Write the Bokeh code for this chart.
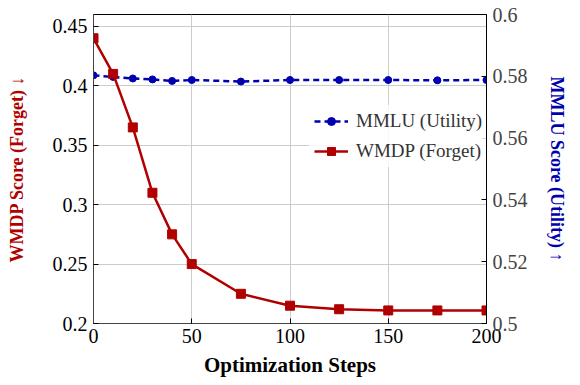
from bokeh.plotting import figure
from bokeh.layouts import row
from bokeh.models import Range1d, LinearAxis, FixedTicker, Legend, LegendItem, Spacer
from bokeh.embed import file_html
from bokeh.resources import INLINE

steps = [0, 10, 20, 30, 40, 50, 75, 100, 125, 150, 175, 200]
wmdp = [0.44, 0.41, 0.365, 0.31, 0.275, 0.25, 0.225, 0.215, 0.212, 0.211, 0.211, 0.211]
mmlu = [0.5803, 0.5798, 0.5793, 0.579, 0.5785, 0.5788, 0.5783, 0.5788, 0.5788, 0.5788, 0.5787, 0.5788]

x_ticks = [0, 50, 100, 150, 200]
left_ticks = [0.2, 0.25, 0.3, 0.35, 0.4, 0.45]
left_labels = ["0.2", "0.25", "0.3", "0.35", "0.4", "0.45"]
right_ticks = [0.5, 0.52, 0.54, 0.56, 0.58, 0.6]
right_labels = ["0.5", "0.52", "0.54", "0.56", "0.58", "0.6"]

RED = "#B00000"
BLUE = "#0000B0"
FONT = "Liberation Serif"

p = figure(frame_width=393, frame_height=309, output_backend="svg", toolbar_location=None,
           x_range=Range1d(0, 200), y_range=Range1d(0.2, 0.46),
           min_border_left=80, min_border_right=60, min_border_top=14, min_border_bottom=40)
p.extra_y_ranges = {"util": Range1d(0.5, 0.6)}
p.outline_line_color = "black"
p.outline_line_width = 1
p.background_fill_color = "white"

for ax in [p.xaxis[0], p.yaxis[0]]:
    ax.major_tick_in = 5
    ax.major_tick_out = 0
    ax.minor_tick_line_color = None
    ax.major_label_text_font = FONT
    ax.major_label_text_font_size = "20px"
    ax.major_label_text_color = "black"
    ax.axis_line_color = "#444444"
    ax.axis_label_text_font = FONT
    ax.axis_label_text_font_style = "bold"

p.xaxis[0].ticker = FixedTicker(ticks=x_ticks)
p.xaxis[0].axis_label = "Optimization Steps"
p.xaxis[0].axis_label_text_color = "black"
p.xaxis[0].axis_label_text_font_size = "21px"
p.xaxis[0].major_label_standoff = 5
p.xaxis[0].axis_label_standoff = 7

p.yaxis[0].ticker = FixedTicker(ticks=left_ticks)
p.yaxis[0].major_label_overrides = dict(zip(left_ticks, left_labels))
p.yaxis[0].axis_label = "WMDP Score (Forget) \u2193"
p.yaxis[0].axis_label_text_color = RED
p.yaxis[0].axis_label_text_font_size = "18px"
p.yaxis[0].major_label_standoff = 6
p.yaxis[0].axis_label_standoff = 23

right = LinearAxis(y_range_name="util", ticker=FixedTicker(ticks=right_ticks))
right.major_label_overrides = dict(zip(right_ticks, right_labels))
right.major_tick_in = 5
right.major_tick_out = 0
right.minor_tick_line_color = None
right.major_label_text_font = FONT
right.major_label_text_font_size = "20px"
right.major_label_standoff = 6
right.axis_line_color = "black"
right.axis_label = "MMLU Score (Utility) \u2191"
right.axis_label_text_font = FONT
right.axis_label_text_font_size = "18px"
right.axis_label_text_font_style = "bold"
right.axis_label_text_color = BLUE
right.axis_label_standoff = 16
p.add_layout(right, "right")

p.xgrid.ticker = FixedTicker(ticks=x_ticks)
p.ygrid.ticker = FixedTicker(ticks=left_ticks)
p.xgrid.grid_line_color = "#CCCCCC"
p.ygrid.grid_line_color = "#CCCCCC"

l1 = p.line(steps, mmlu, y_range_name="util", line_color=BLUE, line_width=2.5, line_dash="6 4")
s1 = p.scatter(steps, mmlu, y_range_name="util", marker="circle", size=7, fill_color=BLUE, line_color=BLUE)
l2 = p.line(steps, wmdp, line_color=RED, line_width=2.5)
s2 = p.scatter(steps, wmdp, marker="square", size=9, fill_color=RED, line_color=RED)

legend = Legend(items=[LegendItem(label="MMLU (Utility)", renderers=[l1, s1]),
                       LegendItem(label="WMDP (Forget)", renderers=[l2, s2])],
                location=(216, 156))
legend.label_text_font = FONT
legend.label_text_font_size = "19px"
legend.label_text_color = "#333333"
legend.glyph_width = 34
legend.label_standoff = 8
legend.spacing = 8
legend.padding = 5
legend.border_line_alpha = 0
legend.background_fill_alpha = 0.85
p.add_layout(legend, "center")

layout = row(Spacer(width=3, height=10), p)
open("out.html", "w").write(file_html(layout, INLINE))
